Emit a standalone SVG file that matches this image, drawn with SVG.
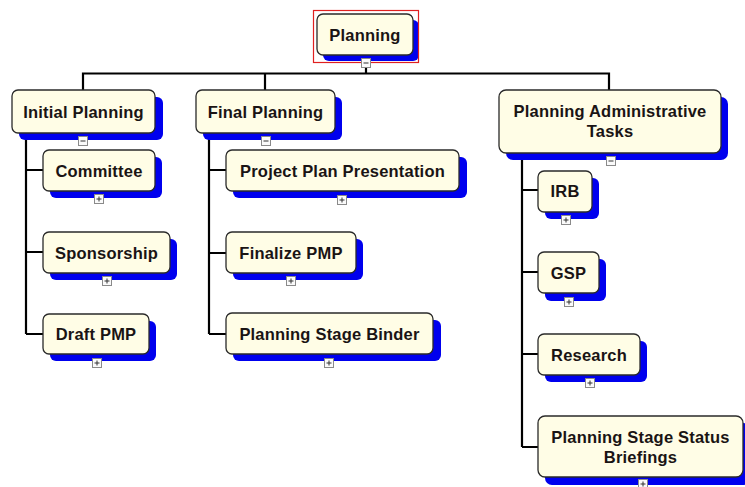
<svg xmlns="http://www.w3.org/2000/svg" width="745" height="487" viewBox="0 0 745 487">
<style>
.sh{fill:#0000ee;}
.bx{fill:#fffde6;stroke:#2a2a2a;stroke-width:1.3;}
.t{font-family:"Liberation Sans",Arial,sans-serif;font-weight:bold;font-size:16.5px;fill:#1a1414;text-anchor:middle;letter-spacing:0.2px;}
.c{fill:none;stroke:#000;stroke-width:2.2;}
.tg{fill:#fafafa;stroke:#8a8a8a;stroke-width:1;}
.tgs{fill:none;stroke:#333;stroke-width:1;}
</style>
<defs>
<g id="plus"><rect class="tg" x="-4.5" y="-4.5" width="9" height="9"/><path class="tgs" d="M-2.5,0H2.5M0,-2.5V2.5"/></g>
<g id="minus"><rect class="tg" x="-4.5" y="-4.5" width="9" height="9"/><path class="tgs" d="M-2.5,0H2.5"/></g>
</defs>
<rect width="745" height="487" fill="#fff"/>
<g id="connectors">
<path class="c" d="M366,67V73.5M83,73.5H609M83,72.5V90M265,72.5V90M609,72.5V90"/>
<path class="c" d="M26,133V334M26,170H43M26,252H43M26,334H43"/>
<path class="c" d="M209,133V334M209,170H226M209,253H226M209,334H226"/>
<path class="c" d="M522,153V447M522,190H538M522,272H538M522,354H538M522,447H538"/>
</g>
<g id="planning">
<rect class="sh" x="323" y="20" width="96" height="41" rx="6"/>
<rect class="bx" x="317" y="14" width="96" height="41" rx="6"/>
<text class="t" x="365" y="41">Planning</text>
<rect x="313.5" y="10.5" width="105" height="52" fill="none" stroke="#e02020" stroke-width="1.2"/>
<use href="#minus" x="366" y="63"/>
</g>
<g id="initial-planning">
<rect class="sh" x="19" y="97" width="144" height="43" rx="6"/>
<rect class="bx" x="12" y="90" width="143" height="43" rx="6"/>
<text class="t" x="83.5" y="117.5">Initial Planning</text>
<use href="#minus" x="83" y="141"/>
</g>
<g id="committee">
<rect class="sh" x="50" y="157" width="112" height="41" rx="6"/>
<rect class="bx" x="43" y="150" width="112" height="41" rx="6"/>
<text class="t" x="99" y="176.5">Committee</text>
<use href="#plus" x="99" y="199"/>
</g>
<g id="sponsorship">
<rect class="sh" x="50" y="239" width="127" height="41" rx="6"/>
<rect class="bx" x="43" y="232" width="127" height="41" rx="6"/>
<text class="t" x="106.5" y="258.5">Sponsorship</text>
<use href="#plus" x="107" y="281"/>
</g>
<g id="draft-pmp">
<rect class="sh" x="50" y="321" width="106" height="40" rx="6"/>
<rect class="bx" x="43" y="314" width="106" height="40" rx="6"/>
<text class="t" x="96" y="340">Draft PMP</text>
<use href="#plus" x="97" y="363"/>
</g>
<g id="final-planning">
<rect class="sh" x="203" y="97" width="139" height="43" rx="6"/>
<rect class="bx" x="196" y="90" width="139" height="43" rx="6"/>
<text class="t" x="265.5" y="117.5">Final Planning</text>
<use href="#minus" x="266" y="141"/>
</g>
<g id="project-plan-presentation">
<rect class="sh" x="233" y="157" width="234" height="41" rx="6"/>
<rect class="bx" x="226" y="150" width="233" height="41" rx="6"/>
<text class="t" x="342.5" y="176.5">Project Plan Presentation</text>
<use href="#plus" x="342" y="200"/>
</g>
<g id="finalize-pmp">
<rect class="sh" x="233" y="239" width="130" height="41" rx="6"/>
<rect class="bx" x="226" y="232" width="130" height="41" rx="6"/>
<text class="t" x="291" y="258.5">Finalize PMP</text>
<use href="#plus" x="291" y="281"/>
</g>
<g id="planning-stage-binder">
<rect class="sh" x="233" y="320" width="208" height="41" rx="6"/>
<rect class="bx" x="226" y="313" width="207" height="41" rx="6"/>
<text class="t" x="329.5" y="339.5">Planning Stage Binder</text>
<use href="#plus" x="329" y="363"/>
</g>
<g id="planning-administrative-tasks">
<rect class="sh" x="506" y="97" width="222" height="63" rx="7"/>
<rect class="bx" x="499" y="90" width="222" height="63" rx="7"/>
<text class="t" x="610" y="117">Planning Administrative</text>
<text class="t" x="610" y="137">Tasks</text>
<use href="#minus" x="611" y="161"/>
</g>
<g id="irb">
<rect class="sh" x="545" y="178" width="54" height="41" rx="6"/>
<rect class="bx" x="538" y="171" width="54" height="41" rx="6"/>
<text class="t" x="565" y="197">IRB</text>
<use href="#plus" x="566" y="220"/>
</g>
<g id="gsp">
<rect class="sh" x="545" y="259" width="61" height="42" rx="6"/>
<rect class="bx" x="538" y="252" width="61" height="41" rx="6"/>
<text class="t" x="568.5" y="278.5">GSP</text>
<use href="#plus" x="569" y="302"/>
</g>
<g id="research">
<rect class="sh" x="545" y="341" width="102" height="41" rx="6"/>
<rect class="bx" x="538" y="334" width="102" height="41" rx="6"/>
<text class="t" x="589" y="360.5">Research</text>
<use href="#plus" x="590" y="383"/>
</g>
<g id="planning-stage-status-briefings">
<rect class="sh" x="545" y="423" width="205" height="62" rx="7"/>
<rect class="bx" x="538" y="416" width="205" height="61" rx="7"/>
<text class="t" x="640.5" y="443">Planning Stage Status</text>
<text class="t" x="640.5" y="463">Briefings</text>
<use href="#plus" x="643" y="484"/>
</g>
</svg>
